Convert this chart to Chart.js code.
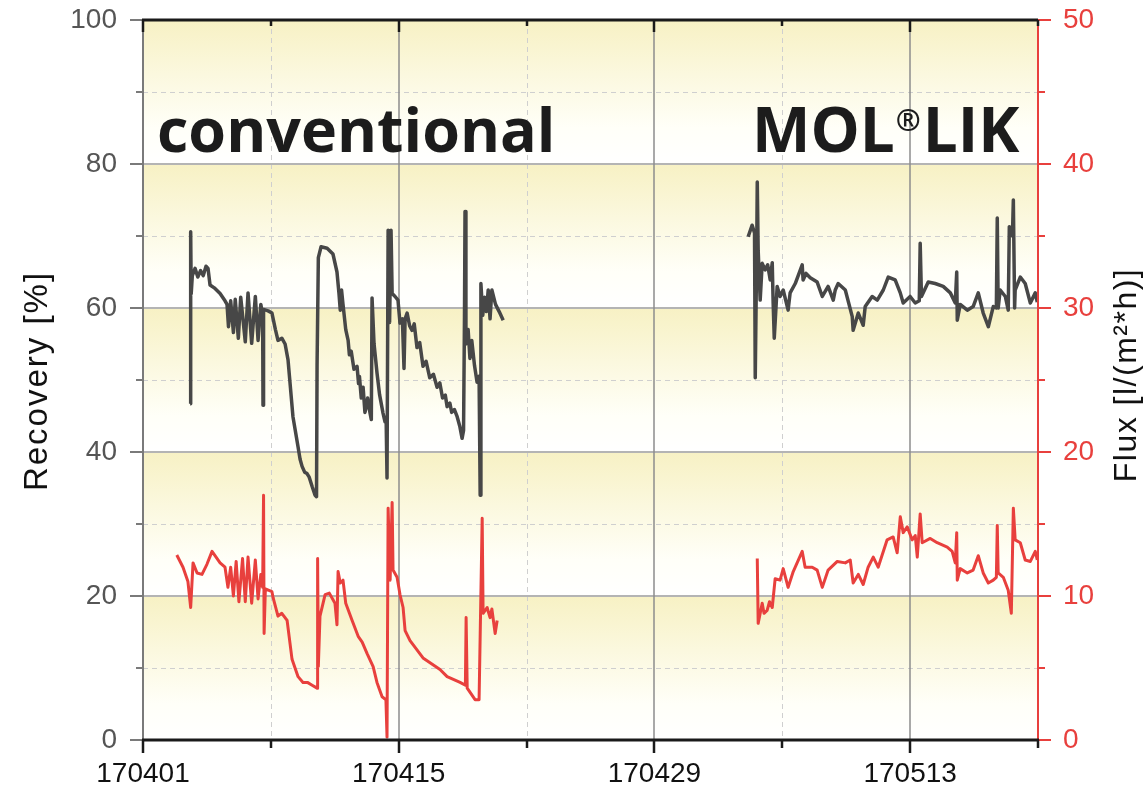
<!DOCTYPE html>
<html>
<head>
<meta charset="utf-8">
<script src="https://cdn.jsdelivr.net/npm/chart.js@4/dist/chart.umd.min.js"></script>
<style>
  html, body { margin: 0; padding: 0; background: #fff; }
  #wrap { width: 1144px; height: 792px; }
</style>
</head>
<body>
<div id="wrap"><canvas id="chart" width="1144" height="792"></canvas></div>
<script>
// x axis: days since 170401
const dayTicks = [0, 14, 28, 42];
const dayLabels = ["170401", "170415", "170429", "170513"];

// Recovery [%] - conventional run
const recConvDays = [2.58, 2.61, 2.64, 2.70, 2.85, 3.00, 3.15, 3.30, 3.45, 3.56,
  3.67, 3.90, 4.22, 4.49, 4.60, 4.68, 4.80, 4.95, 5.05, 5.22,
  5.35, 5.60, 5.75, 5.95, 6.15, 6.30, 6.45, 6.55, 6.57, 6.60,
  6.85, 7.06, 7.25, 7.39, 7.60, 7.78, 7.94, 8.21, 8.49, 8.60,
  8.71, 8.85, 8.98, 9.10, 9.26, 9.42, 9.50, 9.53, 9.60, 9.75,
  10.08, 10.40, 10.62, 10.73, 10.80, 10.87, 10.95, 11.10, 11.23, 11.30,
  11.40, 11.55, 11.72, 11.80, 11.85, 11.95, 12.05, 12.15, 12.20, 12.30,
  12.43, 12.50, 12.54, 12.65, 12.81, 12.95, 13.14, 13.25, 13.31, 13.36,
  13.42, 13.50, 13.58, 13.64, 13.80, 13.96, 14.07, 14.20, 14.29, 14.35,
  14.46, 14.60, 14.73, 14.85, 15.00, 15.15, 15.33, 15.50, 15.70, 15.90,
  16.10, 16.25, 16.40, 16.55, 16.65, 16.80, 16.90, 17.05, 17.20, 17.35,
  17.47, 17.55, 17.60, 17.63, 17.68, 17.80, 17.90, 18.00, 18.15, 18.29,
  18.40, 18.46, 18.50, 18.60, 18.70, 18.80, 18.90, 19.00, 19.10, 19.30,
  19.50, 19.72];
const recConvValues = [46.7, 70.6, 62.0, 64.5, 65.5, 64.3, 65.2, 64.5, 65.8, 65.5,
  63.2, 62.8, 62.0, 61.0, 60.5, 57.4, 61.0, 56.6, 61.2, 55.8,
  61.5, 55.3, 62.1, 55.1, 61.6, 55.5, 60.5, 59.0, 46.5, 59.8,
  59.6, 59.3, 57.0, 55.5, 55.8, 55.0, 52.8, 44.9, 40.7, 39.0,
  38.0, 37.2, 37.0, 36.5, 35.2, 34.0, 33.8, 52.0, 67.0, 68.5,
  68.3, 67.5, 65.0, 62.0, 59.7, 62.5, 60.5, 57.0, 55.5, 53.5,
  54.0, 51.5, 51.9, 49.5, 50.5, 47.5, 49.0, 45.5, 46.0, 47.5,
  45.4, 44.5, 61.4, 55.0, 51.0, 48.0, 45.4, 44.2, 44.8, 36.4,
  70.8, 58.0, 70.8, 62.0, 61.6, 61.1, 57.9, 58.5, 51.6, 58.5,
  59.3, 57.5, 56.9, 57.8, 54.5, 55.2, 51.9, 52.6, 50.3, 50.8,
  49.0, 49.6, 47.5, 47.9, 46.3, 46.8, 45.5, 45.9, 44.9, 43.5,
  41.9, 43.0, 58.6, 73.4, 55.0, 57.0, 53.0, 55.5, 52.0, 49.7,
  50.5, 34.0, 63.4, 59.0, 61.5, 59.5, 62.5, 58.5, 62.5, 60.5,
  59.5, 58.3];

// Recovery [%] - MOL®LIK run
const recMolDays = [33.13, 33.35, 33.48, 33.52, 33.60, 33.63, 33.68, 33.79, 33.90, 34.06,
  34.20, 34.34, 34.45, 34.50, 34.56, 34.72, 34.88, 35.05, 35.32, 35.43,
  35.71, 36.09, 36.14, 36.30, 36.53, 36.91, 37.19, 37.51, 37.79, 37.90,
  38.06, 38.45, 38.83, 38.88, 39.16, 39.43, 39.54, 39.92, 40.20, 40.53,
  40.80, 41.18, 41.46, 41.62, 42.00, 42.28, 42.50, 42.55, 42.62, 42.99,
  43.37, 43.81, 44.20, 44.47, 44.55, 44.58, 44.74, 45.13, 45.45, 45.73,
  46.00, 46.28, 46.55, 46.72, 46.77, 46.82, 46.93, 47.21, 47.37, 47.43,
  47.60, 47.65, 47.72, 47.75, 48.03, 48.30, 48.58, 48.85, 48.96];
const recMolValues = [69.9, 71.5, 70.4, 50.3, 68.0, 77.5, 68.0, 61.1, 66.2, 65.3,
  66.0, 63.9, 66.3, 60.7, 55.8, 63.0, 61.6, 62.5, 59.7, 62.1,
  63.4, 66.0, 63.9, 64.8, 64.2, 63.6, 61.6, 63.0, 61.1, 62.5,
  63.4, 62.5, 58.8, 56.9, 59.3, 57.6, 60.2, 61.6, 61.1, 62.5,
  64.3, 63.9, 62.1, 60.7, 61.6, 60.7, 61.0, 69.0, 61.6, 63.6,
  63.4, 63.0, 62.1, 60.7, 65.0, 58.3, 60.5, 59.7, 60.2, 62.1,
  59.3, 57.4, 60.2, 60.0, 72.5, 60.0, 62.5, 61.6, 59.7, 71.3,
  70.0, 75.0, 60.0, 62.5, 64.3, 63.4, 60.7, 62.1, 60.8];

// Flux [l/(m²*h)] - conventional run
const fluxConvDays = [1.85, 2.19, 2.46, 2.61, 2.74, 2.96, 3.23, 3.50, 3.78, 4.22,
  4.49, 4.65, 4.80, 4.95, 5.10, 5.25, 5.45, 5.60, 5.75, 5.95,
  6.15, 6.30, 6.45, 6.55, 6.60, 6.63, 6.70, 7.06, 7.12, 7.39,
  7.60, 7.89, 8.16, 8.49, 8.76, 9.00, 9.26, 9.53, 9.56, 9.60,
  9.69, 9.97, 10.20, 10.51, 10.62, 10.68, 10.80, 10.95, 11.10, 11.45,
  11.78, 12.00, 12.27, 12.60, 12.81, 13.09, 13.30, 13.36, 13.42, 13.53,
  13.64, 13.69, 13.91, 14.07, 14.24, 14.35, 14.62, 15.33, 16.26, 16.65,
  17.36, 17.65, 17.69, 17.75, 18.18, 18.40, 18.57, 18.62, 18.84, 19.00,
  19.10, 19.28, 19.39];
const fluxConvValues = [12.85, 12.0, 11.0, 9.2, 12.3, 11.6, 11.5, 12.2, 13.1, 12.3,
  12.0, 10.6, 12.0, 10.0, 12.4, 9.6, 12.6, 9.6, 12.7, 9.5,
  12.5, 9.8, 11.5, 10.6, 17.0, 7.4, 10.5, 10.3, 9.9, 8.6,
  8.8, 8.3, 5.6, 4.4, 4.0, 4.0, 3.8, 3.6, 12.6, 5.1,
  8.6, 10.1, 10.2, 9.5, 8.0, 11.7, 10.9, 11.1, 9.5, 8.3,
  7.2, 6.8, 6.0, 5.1, 4.0, 3.0, 2.8, 0.2, 16.1, 11.1,
  16.5, 11.8, 11.3, 10.1, 9.2, 7.6, 6.9, 5.7, 4.9, 4.4,
  4.0, 3.8, 8.5, 3.6, 2.8, 2.8, 15.4, 8.8, 9.2, 8.5,
  9.1, 7.4, 8.3];

// Flux [l/(m²*h)] - MOL®LIK run
const fluxMolDays = [33.63, 33.68, 33.90, 34.00, 34.17, 34.30, 34.45, 34.61, 34.88, 35.05,
  35.32, 35.60, 36.09, 36.25, 36.64, 36.91, 37.19, 37.51, 38.01, 38.45,
  38.72, 38.88, 39.16, 39.43, 39.70, 39.98, 40.25, 40.74, 41.07, 41.29,
  41.46, 41.62, 41.84, 42.11, 42.28, 42.39, 42.55, 42.66, 43.10, 43.48,
  44.03, 44.30, 44.47, 44.55, 44.58, 44.74, 45.13, 45.45, 45.73, 46.00,
  46.28, 46.55, 46.72, 46.77, 46.82, 47.10, 47.37, 47.54, 47.65, 47.75,
  48.03, 48.30, 48.58, 48.85, 48.96];
const fluxMolValues = [12.6, 8.1, 9.5, 8.8, 9.0, 9.6, 9.2, 11.2, 11.1, 11.9,
  10.6, 11.7, 13.1, 12.0, 12.0, 11.8, 10.6, 11.8, 12.4, 12.3,
  12.5, 10.9, 11.5, 10.8, 12.0, 12.7, 12.0, 13.9, 14.1, 13.0,
  15.5, 14.4, 14.8, 13.9, 14.2, 12.7, 15.7, 13.7, 14.0, 13.7,
  13.4, 13.1, 12.3, 14.4, 11.1, 11.9, 11.6, 11.8, 12.8, 11.6,
  10.9, 11.1, 11.3, 14.9, 11.6, 11.3, 10.4, 8.8, 16.1, 13.9,
  13.7, 12.5, 12.4, 13.1, 12.5];

const GREY = "#474747";
const RED = "#e8403d";

const toPoints = (days, values) => days.map((d, i) => ({ x: d, y: values[i] }));

const lineSet = (label, days, values, color, axis, width) => ({
  label: label,
  data: toPoints(days, values),
  borderColor: color,
  borderWidth: width,
  pointRadius: 0,
  tension: 0,
  borderJoinStyle: "round",
  yAxisID: axis
});

// vertical axes: no extra room for the half label at the ends
const noEndPadding = (width) => (scale) => {
  scale.width = width;
  scale.paddingTop = 0;
  scale.paddingBottom = 0;
};

// background bands, grid, axis lines and tick marks
const framePlugin = {
  id: "frame",
  beforeDatasetsDraw(chart) {
    const { ctx, chartArea: a, scales } = chart;
    const y = scales.y, x = scales.x;
    ctx.save();
    // yellow-to-white bands, one per 20 %
    for (let v = 100; v > 0; v -= 20) {
      const top = y.getPixelForValue(v), bot = y.getPixelForValue(v - 20);
      const g = ctx.createLinearGradient(0, top, 0, bot);
      g.addColorStop(0, "rgb(247,241,196)");
      g.addColorStop(0.75, "rgb(255,255,248)");
      g.addColorStop(1, "rgb(255,255,255)");
      ctx.fillStyle = g;
      ctx.fillRect(a.left, top, a.right - a.left, bot - top);
    }
    // minor dashed grid
    ctx.setLineDash([5, 4]);
    ctx.strokeStyle = "#cfcfcf";
    ctx.lineWidth = 1;
    for (let v = 10; v < 100; v += 20) {
      const py = Math.round(y.getPixelForValue(v)) + 0.5;
      ctx.beginPath(); ctx.moveTo(a.left, py); ctx.lineTo(a.right, py); ctx.stroke();
    }
    for (let d = 7; d < 49; d += 14) {
      const px = Math.round(x.getPixelForValue(d)) + 0.5;
      ctx.beginPath(); ctx.moveTo(px, a.top); ctx.lineTo(px, a.bottom); ctx.stroke();
    }
    // major solid grid
    ctx.setLineDash([]);
    ctx.strokeStyle = "#b4b4b4";
    ctx.lineWidth = 2;
    for (let v = 20; v < 100; v += 20) {
      const py = Math.round(y.getPixelForValue(v));
      ctx.beginPath(); ctx.moveTo(a.left, py); ctx.lineTo(a.right, py); ctx.stroke();
    }
    ctx.strokeStyle = "#8c8c8c";
    ctx.lineWidth = 1.5;
    for (let d = 14; d < 49; d += 14) {
      const px = Math.round(x.getPixelForValue(d));
      ctx.beginPath(); ctx.moveTo(px, a.top); ctx.lineTo(px, a.bottom); ctx.stroke();
    }
    ctx.restore();
  },
  afterDatasetsDraw(chart) {
    const { ctx, chartArea: a, scales } = chart;
    const x = scales.x, y = scales.y, y1 = scales.y1;
    ctx.save();
    ctx.lineCap = "butt";
    // left axis (grey)
    ctx.strokeStyle = "#7a7a7a";
    ctx.lineWidth = 2;
    ctx.beginPath(); ctx.moveTo(a.left, a.top); ctx.lineTo(a.left, a.bottom); ctx.stroke();
    for (let v = 0; v <= 100; v += 10) {
      const py = Math.round(y.getPixelForValue(v));
      const len = v % 20 === 0 ? 13 : 7;
      ctx.beginPath(); ctx.moveTo(a.left, py); ctx.lineTo(a.left - len, py); ctx.stroke();
    }
    // right axis (red)
    ctx.strokeStyle = RED;
    ctx.beginPath(); ctx.moveTo(a.right, a.top); ctx.lineTo(a.right, a.bottom); ctx.stroke();
    for (let v = 0; v <= 50; v += 5) {
      const py = Math.round(y1.getPixelForValue(v));
      const len = v % 10 === 0 ? 13 : 7;
      ctx.beginPath(); ctx.moveTo(a.right, py); ctx.lineTo(a.right + len, py); ctx.stroke();
    }
    // top and bottom frame (black)
    ctx.strokeStyle = "#1a1a1a";
    ctx.lineWidth = 3;
    ctx.beginPath(); ctx.moveTo(a.left - 1, a.top); ctx.lineTo(a.right, a.top); ctx.stroke();
    ctx.beginPath(); ctx.moveTo(a.left - 1, a.bottom); ctx.lineTo(a.right + 1, a.bottom); ctx.stroke();
    ctx.lineWidth = 2.5;
    for (let d = 0; d <= 49; d += 7) {
      const px = Math.round(x.getPixelForValue(d));
      const major = d % 14 === 0;
      ctx.beginPath(); ctx.moveTo(px, a.bottom); ctx.lineTo(px, a.bottom + (major ? 13 : 8)); ctx.stroke();
      ctx.beginPath(); ctx.moveTo(px, a.top); ctx.lineTo(px, a.top + (major ? 12 : 6)); ctx.stroke();
    }

    // labels inside the plot
    ctx.fillStyle = "#1c1c1c";
    ctx.textBaseline = "alphabetic";
    ctx.textAlign = "left";
    ctx.font = "bold 61px 'Open Sans'";
    ctx.fillText("conventional", 157, 152);
    ctx.font = "bold 62px 'Open Sans'";
    ctx.fillText("MOL", 752, 152);
    const w = ctx.measureText("MOL").width;
    ctx.font = "bold 30px 'Open Sans'";
    ctx.fillText("®", 752 + w + 1, 131);
    const w2 = ctx.measureText("®").width;
    ctx.font = "bold 62px 'Open Sans'";
    ctx.fillText("LIK", 752 + w + w2 + 3, 152);

    // axis titles
    ctx.font = "33px 'Liberation Sans'";
    ctx.letterSpacing = "2px";
    ctx.textAlign = "center";
    ctx.fillStyle = "#111";
    ctx.translate(47, 381);
    ctx.rotate(-Math.PI / 2);
    ctx.fillText("Recovery [%]", 0, 0);
    ctx.setTransform(1, 0, 0, 1, 0, 0);
    ctx.font = "32px 'Liberation Sans'";
    ctx.letterSpacing = "1.5px";
    ctx.translate(1136, 375);
    ctx.rotate(-Math.PI / 2);
    ctx.fillText("Flux [l/(m²*h)]", 0, 0);
    ctx.restore();
  }
};

new Chart(document.getElementById("chart"), {
  type: "line",
  data: {
    datasets: [
      lineSet("Recovery conventional", recConvDays, recConvValues, GREY, "y", 3.5),
      lineSet("Recovery MOL®LIK", recMolDays, recMolValues, GREY, "y", 3.5),
      lineSet("Flux conventional", fluxConvDays, fluxConvValues, RED, "y1", 3),
      lineSet("Flux MOL®LIK", fluxMolDays, fluxMolValues, RED, "y1", 3)
    ]
  },
  options: {
    responsive: false,
    animation: false,
    devicePixelRatio: 1,
    layout: { padding: { top: 20, left: 0, right: 0, bottom: 0 } },
    plugins: { legend: { display: false }, tooltip: { enabled: false } },
    scales: {
      x: {
        type: "linear",
        min: 0,
        max: 49,
        grid: { display: false, drawTicks: false },
        border: { display: false },
        afterBuildTicks: (scale) => { scale.ticks = dayTicks.map(v => ({ value: v })); },
        afterFit: (scale) => { scale.height = 52; scale.paddingLeft = 0; scale.paddingRight = 0; },
        ticks: {
          padding: 17,
          maxRotation: 0,
          autoSkip: false,
          color: "#111",
          font: { family: "'Liberation Sans'", size: 28 },
          callback: (v) => dayLabels[dayTicks.indexOf(v)]
        }
      },
      y: {
        position: "left",
        min: 0,
        max: 100,
        grid: { display: false, drawTicks: false },
        border: { display: false },
        afterFit: noEndPadding(143),
        ticks: {
          stepSize: 20,
          padding: 26,
          color: "#555",
          font: { family: "'Liberation Sans'", size: 28 }
        }
      },
      y1: {
        position: "right",
        min: 0,
        max: 50,
        grid: { display: false, drawTicks: false },
        border: { display: false },
        afterFit: noEndPadding(106),
        ticks: {
          stepSize: 10,
          padding: 25,
          color: RED,
          font: { family: "'Liberation Sans'", size: 28 }
        }
      }
    }
  },
  plugins: [framePlugin]
});
</script>
</body>
</html>
